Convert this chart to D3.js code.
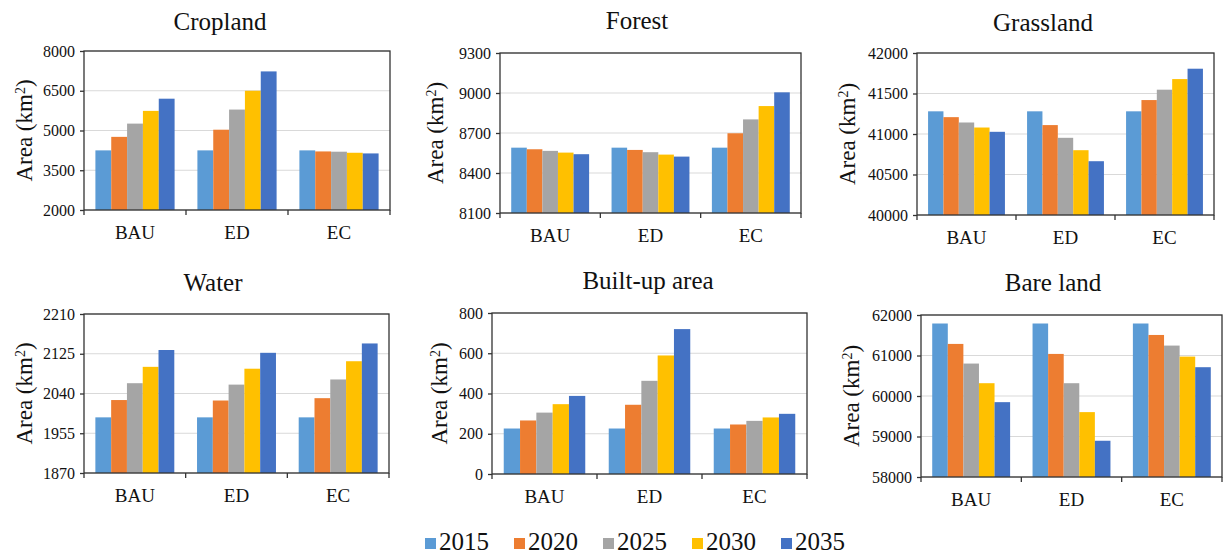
<!DOCTYPE html>
<html>
<head>
<meta charset="utf-8">
<script src="https://cdn.jsdelivr.net/npm/d3@7"></script>
<style>
  body { margin: 0; background: #fff; }
  svg text { font-family: "Liberation Serif", serif !important; fill: #111; }
</style>
</head>
<body>
<svg id="chart" width="1226" height="556"></svg>
<script>
// Scenarios and years
const scenarios = ["BAU", "ED", "EC"];
const years = ["2015", "2020", "2025", "2030", "2035"];
const colors = ["#5B9BD5", "#ED7D31", "#A5A5A5", "#FFC000", "#4472C4"];

// values per scenario (BAU, ED, EC), one value per year
const cropland = [[4250, 4760, 5260, 5740, 6200], [4250, 5030, 5790, 6500, 7230], [4250, 4210, 4200, 4160, 4135]];
const forest = [[8590, 8578, 8566, 8553, 8541], [8590, 8573, 8556, 8538, 8523], [8590, 8698, 8802, 8902, 9005]];
const grassland = [[41280, 41208, 41142, 41080, 41027], [41280, 41110, 40953, 40800, 40664], [41280, 41419, 41547, 41678, 41806]];
const water = [[1989, 2026, 2062, 2097, 2133], [1989, 2025, 2059, 2093, 2127], [1989, 2030, 2070, 2109, 2147]];
const builtup = [[226, 266, 305, 347, 388], [226, 344, 463, 589, 720], [226, 246, 264, 281, 299]];
const bareland = [[61790, 61286, 60801, 60316, 59848], [61790, 61039, 60316, 59602, 58895], [61790, 61507, 61245, 60973, 60711]];

// y tick labels
const croplandTicks = [2000, 3500, 5000, 6500, 8000];
const forestTicks = [8100, 8400, 8700, 9000, 9300];
const grasslandTicks = [40000, 40500, 41000, 41500, 42000];
const waterTicks = [1870, 1955, 2040, 2125, 2210];
const builtupTicks = [0, 200, 400, 600, 800];
const barelandTicks = [58000, 59000, 60000, 61000, 62000];

// panel layout: plot box and title / axis label positions
const panels = [
  { title: "Cropland", values: cropland, ticks: croplandTicks, box: [84, 51, 390, 210], tx: 220, ty: 30, lx: 24 },
  { title: "Forest", values: forest, ticks: forestTicks, box: [500, 53, 801, 213], tx: 637, ty: 29, lx: 435 },
  { title: "Grassland", values: grassland, ticks: grasslandTicks, box: [917, 53, 1214, 215], tx: 1043, ty: 31, lx: 847 },
  { title: "Water", values: water, ticks: waterTicks, box: [84, 314, 389, 473], tx: 213, ty: 291, lx: 24 },
  { title: "Built-up area", values: builtup, ticks: builtupTicks, box: [492, 313, 807, 474], tx: 648, ty: 289, lx: 439 },
  { title: "Bare land", values: bareland, ticks: barelandTicks, box: [921, 315, 1222, 477], tx: 1053, ty: 291, lx: 851 }
];

const FONT = "Liberation Serif, serif";
const svg = d3.select("#chart");

panels.forEach((p) => {
  const [x0, y0, x1, y1] = p.box;
  const g = svg.append("g");

  const x = d3.scaleBand().domain(scenarios).range([x0, x1]).padding(0);
  const xi = d3.scaleBand().domain(years).range([0, x.bandwidth()]).paddingInner(0).paddingOuter(0.72);
  const y = d3.scaleLinear().domain([p.ticks[0], p.ticks[p.ticks.length - 1]]).range([y1, y0]);

  // grid lines
  g.selectAll(".grid")
    .data(p.ticks)
    .enter()
    .append("line")
    .attr("x1", x0).attr("x2", x1)
    .attr("y1", (d) => y(d)).attr("y2", (d) => y(d))
    .attr("stroke", "#d9d9d9")
    .attr("stroke-width", 1);

  // bars
  scenarios.forEach((s, i) => {
    g.selectAll(".bar-" + i)
      .data(p.values[i])
      .enter()
      .append("rect")
      .attr("x", (d, j) => x(s) + xi(years[j]))
      .attr("y", (d) => y(d))
      .attr("width", xi.bandwidth())
      .attr("height", (d) => y1 - y(d))
      .attr("fill", (d, j) => colors[j]);
  });

  // frame
  g.append("rect")
    .attr("x", x0).attr("y", y0)
    .attr("width", x1 - x0).attr("height", y1 - y0)
    .attr("fill", "none")
    .attr("stroke", "#333")
    .attr("stroke-width", 1.3);

  // y axis
  const ya = g.append("g")
    .attr("transform", `translate(${x0},0)`)
    .call(d3.axisLeft(y).tickValues(p.ticks).tickSize(4).tickPadding(5).tickFormat(d3.format("d")))
    .attr("font-family", FONT);
  ya.select(".domain").remove();
  ya.selectAll("line").attr("stroke", "#333").attr("stroke-width", 1.3);
  ya.selectAll("text").style("font-size", "16px").style("font-family", FONT).attr("fill", "#111");

  // x axis: ticks at category boundaries
  const bounds = scenarios.map((s) => x(s)).concat([x1]);
  g.selectAll(".xtick")
    .data(bounds)
    .enter()
    .append("line")
    .attr("x1", (d) => d).attr("x2", (d) => d)
    .attr("y1", y1).attr("y2", y1 + 5)
    .attr("stroke", "#333")
    .attr("stroke-width", 1.3);

  g.selectAll(".xlabel")
    .data(scenarios)
    .enter()
    .append("text")
    .attr("x", (d) => x(d) + x.bandwidth() / 2)
    .attr("y", y1 + 29)
    .attr("text-anchor", "middle")
    .style("font-family", FONT)
    .style("font-size", "19px")
    .text((d) => d);

  // title
  g.append("text")
    .attr("x", p.tx)
    .attr("y", p.ty)
    .attr("text-anchor", "middle")
    .style("font-family", FONT)
    .style("font-size", "25px")
    .text(p.title);

  // y axis label
  const lab = g.append("text")
    .attr("transform", `translate(${p.lx},${(y0 + y1) / 2}) rotate(-90)`)
    .attr("text-anchor", "middle")
    .attr("dy", "0.35em")
    .style("font-family", FONT)
    .style("font-size", "23px");
  lab.append("tspan").text("Area (km");
  lab.append("tspan").text("2").attr("baseline-shift", "super").style("font-size", "14px");
  lab.append("tspan").text(")");
});

// legend
const legendX = [425, 514, 603, 692, 781];
const legend = svg.selectAll(".legend")
  .data(years)
  .enter()
  .append("g")
  .attr("transform", (d, i) => `translate(${legendX[i]},538)`);

legend.append("rect")
  .attr("width", 11).attr("height", 11)
  .attr("fill", (d, i) => colors[i]);

legend.append("text")
  .attr("x", 14)
  .attr("y", 12)
  .style("font-family", FONT)
  .style("font-size", "25px")
  .text((d) => d);
</script>
</body>
</html>
